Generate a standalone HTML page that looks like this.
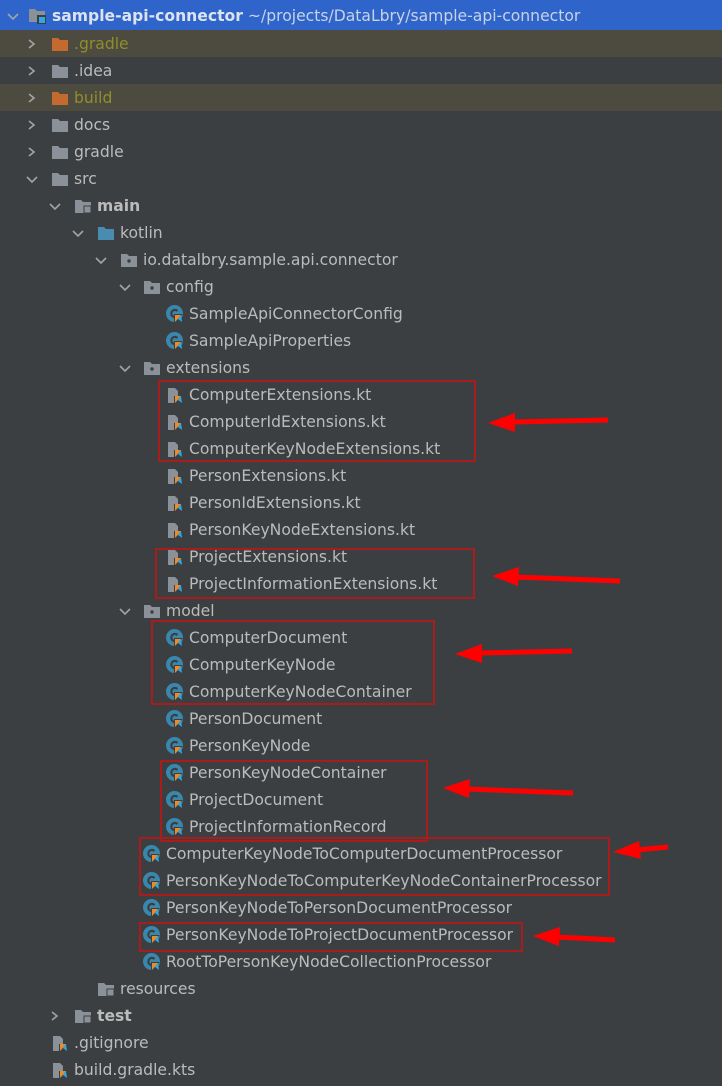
<!DOCTYPE html><html><head><style>
body{margin:0;width:722px;height:1086px;background:#3c3f41;overflow:hidden;position:relative;font-family:"DejaVu Sans",sans-serif;font-size:15.6px;color:#bbbbbb}
.r{position:absolute;left:0;width:722px;height:27px}
.t{position:absolute;white-space:nowrap;line-height:28px;top:0}
.ch{position:absolute;top:8px;width:12px;height:12px}
.ic{position:absolute;top:5px;width:18px;height:18px}
.box{position:absolute;border:2px solid #a81c1c}
</style></head><body>
<svg width="0" height="0" style="position:absolute"><defs>
<symbol id="cr" viewBox="0 0 12 12"><polyline points="3,2 8,6 3,10" fill="none" stroke="#a0a4a8" stroke-width="1.6"/></symbol>
<symbol id="cd" viewBox="0 0 12 12"><polyline points="1,4 6,9 11,4" fill="none" stroke="#a0a4a8" stroke-width="1.6"/></symbol>
<symbol id="fg" viewBox="0 0 18 18"><path d="M1 3h6l2 2h8v11H1z" fill="#8b9198"/></symbol>
<symbol id="fo" viewBox="0 0 18 18"><path d="M1 3h6l2 2h8v11H1z" fill="#c46a2e"/></symbol>
<symbol id="fp" viewBox="0 0 18 18"><path d="M1 3h6l2 2h8v11H1z" fill="#8b9198"/><circle cx="9" cy="10" r="1.7" fill="#3c3f41"/></symbol>
<symbol id="fb" viewBox="0 0 18 18"><path d="M1 3h6l2 2h8v11H1z" fill="#4a8bb0"/></symbol>
<symbol id="fr" viewBox="0 0 18 18"><path d="M1 3h6l2 2h8v11H1z" fill="#8b9198"/><rect x="10" y="9" width="7" height="7" fill="#8b9198" stroke="#3c3f41"/></symbol>
<symbol id="cl" viewBox="0 0 18 18"><circle cx="8.5" cy="8.5" r="8.5" fill="#3a87ad"/><path d="M11.5 6A3.6 3.6 0 1 0 11.5 11" fill="none" stroke="#3c3f41" stroke-width="2.2"/><path d="M8 18L8 9L17 9L12 13.5L17 18Z" fill="#3c3f41"/><path d="M9 17L9 10L15 10Z" fill="#f08a24"/><path d="M9 17L15 10L16 17L12 14Z" fill="#2fa8e0"/></symbol>
<symbol id="kt" viewBox="0 0 18 18"><path d="M2 2h7l3 3v5H8v7H2z" fill="#8b9198"/><path d="M9 17L9 10L15 10Z" fill="#f08a24"/><path d="M9 17L15 10L16 17L12 14Z" fill="#2fa8e0"/></symbol>
<symbol id="pr" viewBox="0 0 18 18"><path d="M1 3h6l2 2h8v11H1z" fill="#8b9198"/><rect x="9" y="9" width="9" height="9" fill="#3c3f41"/><rect x="11" y="11" width="6" height="6" fill="#2fa8e0"/></symbol>
</defs></svg>

<div class="r" style="top:0;height:30px;background:#2f65ca"><svg class="ch" style="left:7px;top:10px"><use href="#cd"/></svg><svg class="ic" style="left:28px;top:6px"><use href="#pr"/></svg><span class="t" style="left:52px;line-height:32px;color:#dde3ee"><b>sample-api-connector</b> <span style="color:#c8d2e6">~/projects/DataLbry/sample-api-connector</span></span></div>
<div class="r" style="top:30px;background:#4d4a40"><svg class="ch" style="left:26px"><use href="#cr"/></svg><svg class="ic" style="left:51px"><use href="#fo"/></svg><span class="t" style="left:74px;color:#8f8f2a">.gradle</span></div>
<div class="r" style="top:57px"><svg class="ch" style="left:26px"><use href="#cr"/></svg><svg class="ic" style="left:51px"><use href="#fg"/></svg><span class="t" style="left:74px">.idea</span></div>
<div class="r" style="top:84px;background:#4d4a40"><svg class="ch" style="left:26px"><use href="#cr"/></svg><svg class="ic" style="left:51px"><use href="#fo"/></svg><span class="t" style="left:74px;color:#8f8f2a">build</span></div>
<div class="r" style="top:111px"><svg class="ch" style="left:26px"><use href="#cr"/></svg><svg class="ic" style="left:51px"><use href="#fg"/></svg><span class="t" style="left:74px">docs</span></div>
<div class="r" style="top:138px"><svg class="ch" style="left:26px"><use href="#cr"/></svg><svg class="ic" style="left:51px"><use href="#fg"/></svg><span class="t" style="left:74px">gradle</span></div>
<div class="r" style="top:165px"><svg class="ch" style="left:26px"><use href="#cd"/></svg><svg class="ic" style="left:51px"><use href="#fg"/></svg><span class="t" style="left:74px">src</span></div>
<div class="r" style="top:192px"><svg class="ch" style="left:49px"><use href="#cd"/></svg><svg class="ic" style="left:74px"><use href="#fr"/></svg><span class="t" style="left:97px"><b>main</b></span></div>
<div class="r" style="top:219px"><svg class="ch" style="left:72px"><use href="#cd"/></svg><svg class="ic" style="left:97px"><use href="#fb"/></svg><span class="t" style="left:120px">kotlin</span></div>
<div class="r" style="top:246px"><svg class="ch" style="left:95px"><use href="#cd"/></svg><svg class="ic" style="left:120px"><use href="#fp"/></svg><span class="t" style="left:143px">io.datalbry.sample.api.connector</span></div>
<div class="r" style="top:273px"><svg class="ch" style="left:119px"><use href="#cd"/></svg><svg class="ic" style="left:143px"><use href="#fp"/></svg><span class="t" style="left:166px">config</span></div>
<div class="r" style="top:300px"><svg class="ic" style="left:166px"><use href="#cl"/></svg><span class="t" style="left:189px">SampleApiConnectorConfig</span></div>
<div class="r" style="top:327px"><svg class="ic" style="left:166px"><use href="#cl"/></svg><span class="t" style="left:189px">SampleApiProperties</span></div>
<div class="r" style="top:354px"><svg class="ch" style="left:119px"><use href="#cd"/></svg><svg class="ic" style="left:143px"><use href="#fp"/></svg><span class="t" style="left:166px">extensions</span></div>
<div class="r" style="top:381px"><svg class="ic" style="left:166px"><use href="#kt"/></svg><span class="t" style="left:189px">ComputerExtensions.kt</span></div>
<div class="r" style="top:408px"><svg class="ic" style="left:166px"><use href="#kt"/></svg><span class="t" style="left:189px">ComputerIdExtensions.kt</span></div>
<div class="r" style="top:435px"><svg class="ic" style="left:166px"><use href="#kt"/></svg><span class="t" style="left:189px">ComputerKeyNodeExtensions.kt</span></div>
<div class="r" style="top:462px"><svg class="ic" style="left:166px"><use href="#kt"/></svg><span class="t" style="left:189px">PersonExtensions.kt</span></div>
<div class="r" style="top:489px"><svg class="ic" style="left:166px"><use href="#kt"/></svg><span class="t" style="left:189px">PersonIdExtensions.kt</span></div>
<div class="r" style="top:516px"><svg class="ic" style="left:166px"><use href="#kt"/></svg><span class="t" style="left:189px">PersonKeyNodeExtensions.kt</span></div>
<div class="r" style="top:543px"><svg class="ic" style="left:166px"><use href="#kt"/></svg><span class="t" style="left:189px">ProjectExtensions.kt</span></div>
<div class="r" style="top:570px"><svg class="ic" style="left:166px"><use href="#kt"/></svg><span class="t" style="left:189px">ProjectInformationExtensions.kt</span></div>
<div class="r" style="top:597px"><svg class="ch" style="left:119px"><use href="#cd"/></svg><svg class="ic" style="left:143px"><use href="#fp"/></svg><span class="t" style="left:166px">model</span></div>
<div class="r" style="top:624px"><svg class="ic" style="left:166px"><use href="#cl"/></svg><span class="t" style="left:189px">ComputerDocument</span></div>
<div class="r" style="top:651px"><svg class="ic" style="left:166px"><use href="#cl"/></svg><span class="t" style="left:189px">ComputerKeyNode</span></div>
<div class="r" style="top:678px"><svg class="ic" style="left:166px"><use href="#cl"/></svg><span class="t" style="left:189px">ComputerKeyNodeContainer</span></div>
<div class="r" style="top:705px"><svg class="ic" style="left:166px"><use href="#cl"/></svg><span class="t" style="left:189px">PersonDocument</span></div>
<div class="r" style="top:732px"><svg class="ic" style="left:166px"><use href="#cl"/></svg><span class="t" style="left:189px">PersonKeyNode</span></div>
<div class="r" style="top:759px"><svg class="ic" style="left:166px"><use href="#cl"/></svg><span class="t" style="left:189px">PersonKeyNodeContainer</span></div>
<div class="r" style="top:786px"><svg class="ic" style="left:166px"><use href="#cl"/></svg><span class="t" style="left:189px">ProjectDocument</span></div>
<div class="r" style="top:813px"><svg class="ic" style="left:166px"><use href="#cl"/></svg><span class="t" style="left:189px">ProjectInformationRecord</span></div>
<div class="r" style="top:840px"><svg class="ic" style="left:143px"><use href="#cl"/></svg><span class="t" style="left:166px">ComputerKeyNodeToComputerDocumentProcessor</span></div>
<div class="r" style="top:867px"><svg class="ic" style="left:143px"><use href="#cl"/></svg><span class="t" style="left:166px">PersonKeyNodeToComputerKeyNodeContainerProcessor</span></div>
<div class="r" style="top:894px"><svg class="ic" style="left:143px"><use href="#cl"/></svg><span class="t" style="left:166px">PersonKeyNodeToPersonDocumentProcessor</span></div>
<div class="r" style="top:921px"><svg class="ic" style="left:143px"><use href="#cl"/></svg><span class="t" style="left:166px">PersonKeyNodeToProjectDocumentProcessor</span></div>
<div class="r" style="top:948px"><svg class="ic" style="left:143px"><use href="#cl"/></svg><span class="t" style="left:166px">RootToPersonKeyNodeCollectionProcessor</span></div>
<div class="r" style="top:975px"><svg class="ic" style="left:97px"><use href="#fr"/></svg><span class="t" style="left:120px">resources</span></div>
<div class="r" style="top:1002px"><svg class="ch" style="left:49px"><use href="#cr"/></svg><svg class="ic" style="left:74px"><use href="#fr"/></svg><span class="t" style="left:97px"><b>test</b></span></div>
<div class="r" style="top:1029px"><svg class="ic" style="left:51px"><use href="#kt"/></svg><span class="t" style="left:74px">.gitignore</span></div>
<div class="r" style="top:1056px"><svg class="ic" style="left:51px"><use href="#kt"/></svg><span class="t" style="left:74px">build.gradle.kts</span></div>

<div class="box" style="left:158px;top:380px;width:314px;height:78px"></div>
<div class="box" style="left:155px;top:548px;width:316px;height:47px"></div>
<div class="box" style="left:151px;top:620px;width:280px;height:81px"></div>
<div class="box" style="left:160px;top:760px;width:264px;height:78px"></div>
<div class="box" style="left:139px;top:837px;width:467px;height:55px"></div>
<div class="box" style="left:139px;top:922px;width:380px;height:26px"></div>

<svg style="position:absolute;left:0;top:0" width="722" height="1086">
<g fill="#ff0000" stroke="#ff0000" stroke-width="5">
<line x1="608" y1="420" x2="512" y2="422"/><polygon stroke="none" points="488,423 515,413 515,432"/>
<line x1="620" y1="581" x2="515" y2="577"/><polygon stroke="none" points="492,576 519,567 518,586"/>
<line x1="572" y1="651" x2="478" y2="653"/><polygon stroke="none" points="455,654 482,644 482,663"/>
<line x1="573" y1="793" x2="466" y2="789"/><polygon stroke="none" points="443,788 470,779 469,798"/>
<line x1="668" y1="847" x2="636" y2="850"/><polygon stroke="none" points="613,852 639,841 641,859"/>
<line x1="615" y1="940" x2="557" y2="937"/><polygon stroke="none" points="533,936 560,927 559,946"/>
</g></svg>
</body></html>
